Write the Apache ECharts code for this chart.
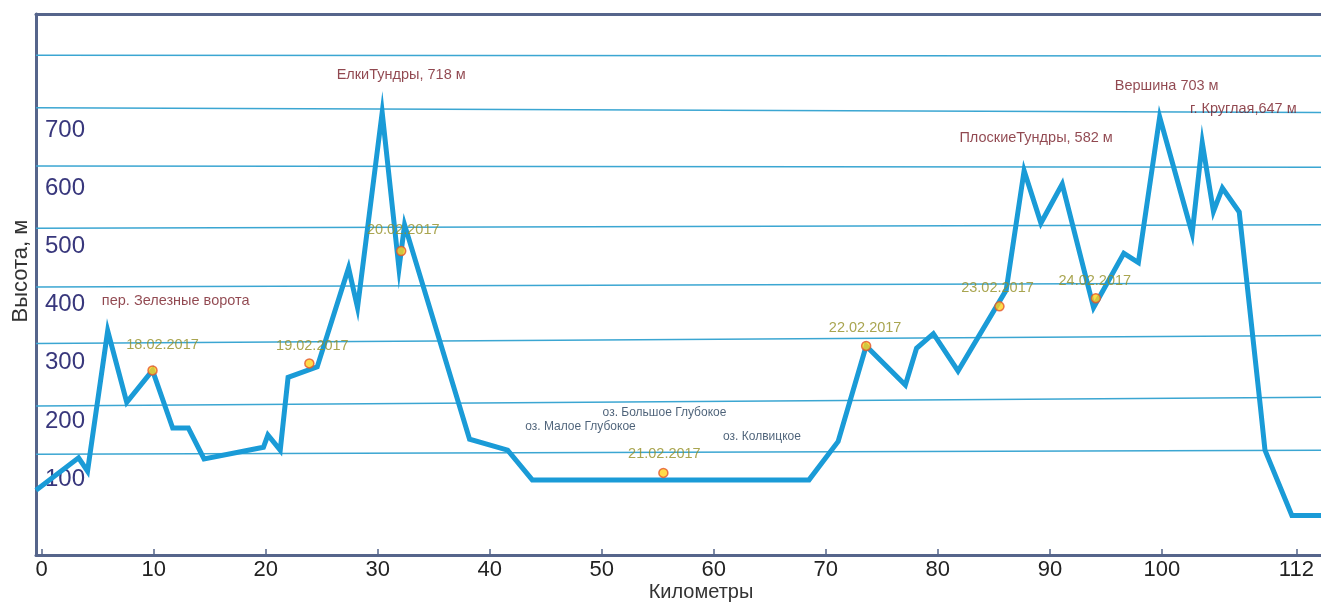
<!DOCTYPE html>
<html>
<head>
<meta charset="utf-8">
<script src="https://cdn.jsdelivr.net/npm/echarts@6/dist/echarts.min.js"></script>
<style>
html,body{margin:0;padding:0;background:#ffffff;}
#chart{width:1321px;height:603px;}
</style>
</head>
<body>
<div id="chart"></div>
<script>
// ---------------- DATA ----------------
// Elevation profile: distance (km) and altitude (m)
const profileKm  = [-0.5, 3.3, 4.1, 5.9, 7.6, 9.9, 11.7, 13.1, 14.5, 19.8, 20.2, 21.3, 22.0, 24.6, 27.4, 28.2, 30.4, 31.9, 32.4, 38.2, 41.6, 43.8, 68.5, 71.1, 73.6, 77.1, 78.1, 79.6, 81.8, 86.1, 87.7, 89.2, 91.1, 93.9, 96.6, 97.9, 99.8, 102.7, 103.6, 104.6, 105.4, 106.9, 108.8, 109.2, 111.6, 114.2];
const profileAlt = [81, 137, 114, 355, 232, 287, 188, 188, 135, 155, 176, 150, 275, 293, 463, 395, 730, 462, 537, 169, 150, 99, 99, 165, 329, 262, 325, 350, 286, 425, 630, 540, 607, 395, 488, 472, 722, 522, 678, 560, 600, 559, 223, 150, 38, 38];

// Camps (overnight stops)
const campKm    = [9.9, 23.9, 32.1, 55.5, 73.6, 85.5, 94.1];
const campAlt   = [287, 299, 492, 111, 329, 397, 411];
const campDates = ['18.02.2017', '19.02.2017', '20.02.2017', '21.02.2017', '22.02.2017', '23.02.2017', '24.02.2017'];

// Named summits / pass (index into the profile)
const peakNames = ['пер. Зелезные ворота', 'ЕлкиТундры, 718 м', 'ПлоскиеТундры, 582 м', 'Вершина 703 м', 'г. Круглая,647 м'];
const peakIdx   = [3, 16, 30, 36, 38];

// Lakes (label anchor in data coordinates)
const lakeNames = ['оз. Большое Глубокое', 'оз. Малое Глубокое', 'оз. Колвицкое'];
const lakeKm    = [55.6, 48.1, 64.3];
const lakeAlt   = [214, 190, 174];

// Ticks
const xTickValues = [0, 10, 20, 30, 40, 50, 60, 70, 80, 90, 100, 112];
const yTickValues = [100, 200, 300, 400, 500, 600, 700];

// Hand-drawn horizontal guide lines (altitude at left end / right end)
const guideLeft  = [828, 738, 638, 531, 430, 333, 226, 143];
const guideRight = [827, 730, 636, 537, 437, 347, 241, 150];

// ---------------- STYLE ----------------
const FONT = '"Liberation Sans", Arial, Helvetica, sans-serif';
const X_MIN = -0.5, X_MAX = 114.2, Y_MIN = -30, Y_MAX = 899;
const AXIS_COLOR = '#56658b';
const campLabelOffset = [[10,-25],[3,-17],[2,-21],[1,-19],[-1,-18],[-2,-18],[-1,-17]];
const peakLabelOffset = [[68,-30],[19,-37],[12,-33],[7,-31],[41,-34]];

const chart = echarts.init(document.getElementById('chart'), null, {renderer: 'canvas'});

const guideSeries = guideLeft.map((l, i) => ({
  type: 'line',
  data: [[X_MIN, l], [X_MAX, guideRight[i]]],
  symbol: 'none',
  silent: true,
  z: 1,
  lineStyle: {color: '#3ba6d2', width: 1.5},
  animation: false
}));

const option = {
  animation: false,
  backgroundColor: '#ffffff',
  grid: {left: 36, right: 0, top: 14, bottom: 48, containLabel: false, outerBoundsMode: 'none'},
  xAxis: [{
    type: 'value', min: X_MIN, max: X_MAX,
    axisLine: {show: true, onZero: false, lineStyle: {color: AXIS_COLOR, width: 3}},
    axisTick: {show: true, inside: true, length: 6, customValues: xTickValues, lineStyle: {color: AXIS_COLOR, width: 1.5}},
    axisLabel: {show: true, customValues: xTickValues, color: '#222222', fontSize: 22, fontFamily: FONT, margin: 4,
      formatter: v => String(v)},
    splitLine: {show: false}
  }, {
    type: 'value', position: 'top', min: X_MIN, max: X_MAX,
    axisLine: {show: true, onZero: false, lineStyle: {color: AXIS_COLOR, width: 3}},
    axisTick: {show: false}, axisLabel: {show: false}, splitLine: {show: false}
  }],
  yAxis: {
    type: 'value', min: Y_MIN, max: Y_MAX,
    axisLine: {show: true, onZero: false, lineStyle: {color: AXIS_COLOR, width: 3}},
    axisTick: {show: false},
    axisLabel: {show: true, inside: true, customValues: yTickValues, color: '#38377c', fontSize: 24, fontFamily: FONT, margin: 9},
    splitLine: {show: false}
  },
  graphic: [
    {type: 'text', x: 21, y: 271, rotation: Math.PI / 2,
      style: {text: 'Высота, м', fill: '#333333', font: '22px ' + FONT, align: 'center', verticalAlign: 'middle'}},
    {type: 'text', x: 701, y: 592,
      style: {text: 'Километры', fill: '#333333', font: '20px ' + FONT, align: 'center', verticalAlign: 'middle'}}
  ],
  series: guideSeries.concat([
    {
      type: 'line',
      data: profileKm.map((k, i) => [k, profileAlt[i]]),
      symbol: 'none',
      z: 3,
      lineStyle: {color: '#1a9bd7', width: 5, join: 'miter', miterLimit: 30}
    },
    {
      type: 'scatter',
      z: 5,
      data: campKm.map((k, i) => ({value: [k, campAlt[i]], name: campDates[i], label: {offset: campLabelOffset[i]}})),
      symbol: 'circle', symbolSize: 9,
      itemStyle: {color: '#ffd21c', borderColor: '#e3552a', borderWidth: 1.5},
      label: {show: true, position: 'inside', formatter: p => p.name, color: '#948e24', fontSize: 14.5,
        fontFamily: FONT, textBorderWidth: 0, align: 'center', verticalAlign: 'middle'}
    },
    {
      type: 'scatter',
      z: 6,
      data: peakIdx.map((idx, i) => ({value: [profileKm[idx], profileAlt[idx]], name: peakNames[i], label: {offset: peakLabelOffset[i]}})),
      symbolSize: 1,
      itemStyle: {color: 'rgba(0,0,0,0)'},
      label: {show: true, position: 'inside', formatter: p => p.name, color: '#761a24', fontSize: 14.5,
        fontFamily: FONT, textBorderWidth: 0, align: 'center', verticalAlign: 'middle'}
    },
    {
      type: 'scatter',
      z: 6,
      data: lakeKm.map((k, i) => ({value: [k, lakeAlt[i]], name: lakeNames[i]})),
      symbolSize: 1,
      itemStyle: {color: 'rgba(0,0,0,0)'},
      label: {show: true, position: 'inside', formatter: p => p.name, color: '#1f3a56', fontSize: 12,
        fontFamily: FONT, textBorderWidth: 0, align: 'center', verticalAlign: 'middle'}
    }
  ])
};

chart.setOption(option);
</script>
</body>
</html>
